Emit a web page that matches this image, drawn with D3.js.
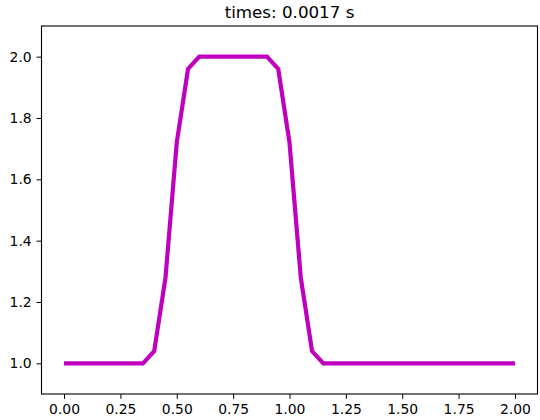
<!DOCTYPE html>
<html><head><meta charset="utf-8">
<script src="https://cdn.jsdelivr.net/npm/d3@7"></script>
<style>body{margin:0;background:#fff}svg{display:block}text{font-family:"DejaVu Sans",sans-serif}</style>
</head><body>
<script>
const xValues = [0.00,0.05,0.10,0.15,0.20,0.25,0.30,0.35,0.40,0.45,0.50,0.55,0.60,0.65,0.70,0.75,0.80,0.85,0.90,0.95,1.00,1.05,1.10,1.15,1.20,1.25,1.30,1.35,1.40,1.45,1.50,1.55,1.60,1.65,1.70,1.75,1.80,1.85,1.90,1.95,2.00];
const yValues = [1,1,1,1,1,1,1,1,1.04,1.28,1.72,1.96,2,2,2,2,2,2,2,1.96,1.72,1.28,1.04,1,1,1,1,1,1,1,1,1,1,1,1,1,1,1,1,1,1];
const xTicks = [0,0.25,0.5,0.75,1,1.25,1.5,1.75,2];
const yTicks = [1.0,1.2,1.4,1.6,1.8,2.0];
const titleText = "times: 0.0017 s";

const W = 540, H = 420;
const L = 41.5, R = 537.5, T = 26, B = 394;
const svg = d3.select("body").append("svg").attr("width", W).attr("height", H);
const x = d3.scaleLinear().domain([-0.1, 2.1]).range([L, R]);
const y = d3.scaleLinear().domain([0.9, 2.1]).range([B, T]);

const xAxis = svg.append("g").attr("transform", `translate(0,${B})`)
  .call(d3.axisBottom(x).tickValues(xTicks).tickFormat(d3.format(".2f")).tickSize(4.9).tickPadding(4.9));
const yAxis = svg.append("g").attr("transform", `translate(${L},0)`)
  .call(d3.axisLeft(y).tickValues(yTicks).tickFormat(d3.format(".1f")).tickSize(4.9).tickPadding(4.9));
[xAxis, yAxis].forEach(a => {
  a.select(".domain").remove();
  a.selectAll("text").attr("font-size", 13.9).attr("fill", "#000").attr("font-family", "DejaVu Sans");
  a.selectAll("line").attr("stroke", "#000").attr("stroke-width", 1);
});

svg.append("path").datum(xValues.map((d, i) => [d, yValues[i]]))
  .attr("fill", "none").attr("stroke", "#bf00bf").attr("stroke-width", 4.2)
  .attr("stroke-linejoin", "miter").attr("stroke-linecap", "butt")
  .attr("d", d3.line().x(d => x(d[0])).y(d => y(d[1])));

svg.append("rect").attr("x", L).attr("y", T).attr("width", R - L).attr("height", B - T)
  .attr("fill", "none").attr("stroke", "#000").attr("stroke-width", 1.1);

svg.append("text").attr("x", (L + R) / 2).attr("y", T - 8.3).attr("text-anchor", "middle")
  .attr("font-size", 16.7).attr("fill", "#000").text(titleText);
</script>
</body></html>
